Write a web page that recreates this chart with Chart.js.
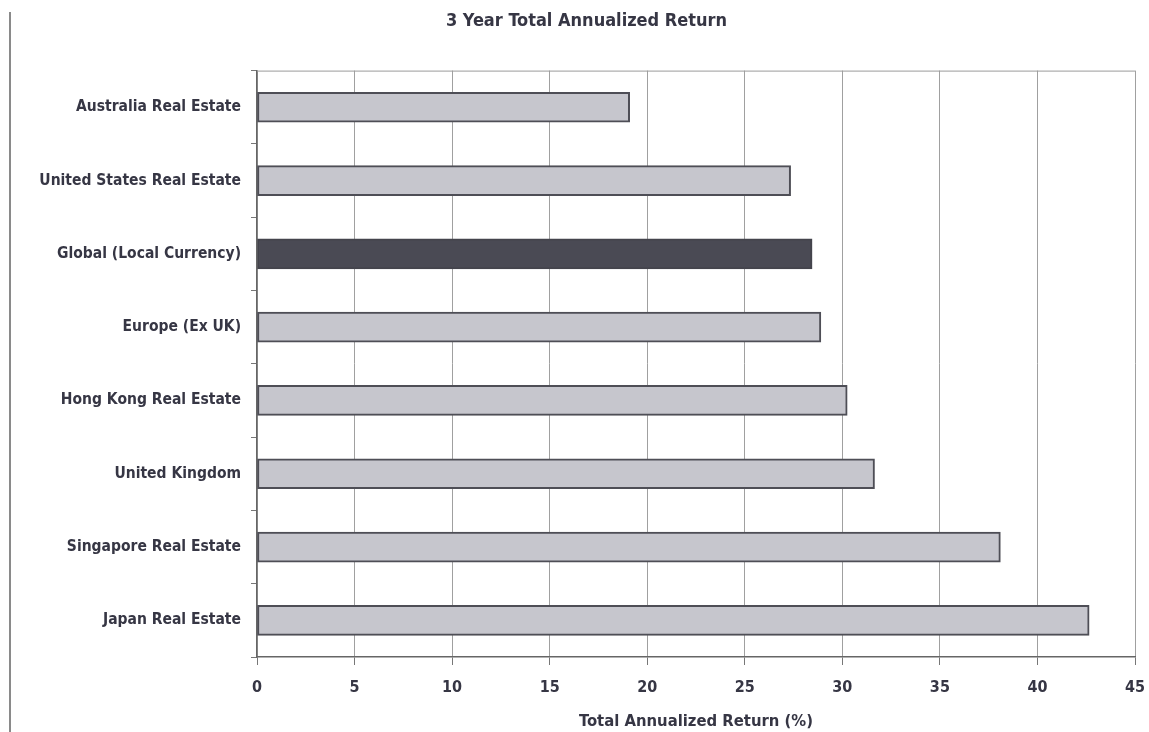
<!DOCTYPE html>
<html>
<head>
<meta charset="utf-8">
<script src="https://cdn.jsdelivr.net/npm/chart.js@4.4.0/dist/chart.umd.min.js"></script>
<style>
  html, body { margin: 0; padding: 0; background: #ffffff; }
  #wrap { position: relative; width: 1149px; height: 732px; }
  #pageEdge { position: absolute; left: 9px; top: 12px; width: 0; height: 720px; border-left: 2px solid #8a8a8a; }
  canvas { position: absolute; left: 0; top: 0; }
</style>
</head>
<body>
<div id="wrap">
  <canvas id="c" width="1149" height="732"></canvas>
  <div id="pageEdge"></div>
</div>
<script>
const categories = [
  "Australia Real Estate",
  "United States Real Estate",
  "Global (Local Currency)",
  "Europe (Ex UK)",
  "Hong Kong Real Estate",
  "United Kingdom",
  "Singapore Real Estate",
  "Japan Real Estate"
];
const returns = [19.1, 27.35, 28.45, 28.9, 30.25, 31.65, 38.1, 42.65];
const highlighted = "Global (Local Currency)";
const xTicks = [0, 5, 10, 15, 20, 25, 30, 35, 40, 45];

const textColor = "#363644";
const fontFamily = "'DejaVu Sans Condensed', 'DejaVu Sans', sans-serif";

const topBorder = {
  id: "topBorder",
  afterDraw(chart) {
    const { ctx, chartArea } = chart;
    ctx.save();
    ctx.strokeStyle = "#9a9a9a";
    ctx.lineWidth = 1;
    ctx.beginPath();
    ctx.moveTo(chartArea.left, chartArea.top + 0.5);
    ctx.lineTo(chartArea.right, chartArea.top + 0.5);
    ctx.stroke();
    ctx.restore();
  }
};

new Chart(document.getElementById("c"), {
  type: "bar",
  data: {
    labels: categories,
    datasets: [{
      data: returns,
      backgroundColor: categories.map(c => c === highlighted ? "#4a4a54" : "#c6c6cd"),
      borderColor: categories.map(c => c === highlighted ? "#44444c" : "#4e4e56"),
      borderWidth: 2,
      borderSkipped: false,
      barThickness: 30
    }]
  },
  options: {
    indexAxis: "y",
    responsive: false,
    animation: false,
    layout: { padding: { left: 38, right: 14, top: 0, bottom: 0 } },
    plugins: {
      legend: { display: false },
      tooltip: { enabled: false },
      title: {
        display: true,
        text: "3 Year Total Annualized Return",
        color: textColor,
        font: { family: fontFamily, size: 18, weight: "bold" },
        padding: { top: 11, bottom: 38 }
      }
    },
    scales: {
      x: {
        type: "linear",
        min: 0,
        max: 45,
        afterBuildTicks(axis) { axis.ticks = xTicks.map(v => ({ value: v })); },
        afterFit(axis) { axis.paddingRight = 0; axis.paddingLeft = 0; },
        grid: { color: "#a0a0a0", lineWidth: 1, drawTicks: true, tickLength: 8, tickColor: "#777" },
        border: { display: true, color: "#666", width: 1.5 },
        ticks: {
          color: textColor,
          padding: 13,
          font: { family: fontFamily, size: 16, weight: "bold" }
        },
        title: {
          display: true,
          text: "Total Annualized Return (%)",
          color: textColor,
          font: { family: fontFamily, size: 16.5, weight: "bold" },
          padding: { top: 2, bottom: 0 }
        }
      },
      y: {
        type: "category",
        offset: true,
        afterFit(axis) { axis.width = 219; },
        grid: { offset: true, drawOnChartArea: false, drawTicks: true, tickLength: 6, tickColor: "#777" },
        border: { display: true, color: "#666", width: 1.5 },
        ticks: {
          color: textColor,
          padding: 10,
          font: { family: fontFamily, size: 15.5, weight: "bold" }
        }
      }
    }
  },
  plugins: [topBorder]
});
</script>
</body>
</html>
